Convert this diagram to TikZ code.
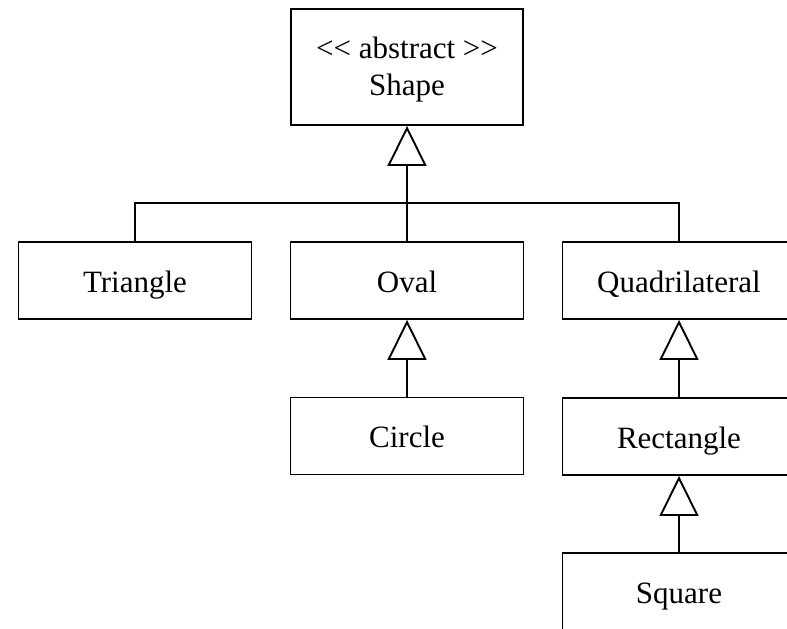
\documentclass[tikz,border=0pt]{standalone}
\usepackage{fontspec}
\setmainfont{Liberation Serif}[Ligatures=TeXOff]
\usetikzlibrary{arrows.meta}
\begin{document}
\begin{tikzpicture}[x=1pt,y=-1pt,
  line width=1.9pt,
  classbox/.style={draw, rectangle, minimum width=233pt, minimum height=77pt,
    inner sep=0pt, font=\fontsize{31}{37}\selectfont, align=center,
    text height=29.5pt, text depth=6.5pt},
  gen/.style={-{Triangle[open,length=40pt,width=39pt]}}]
\useasboundingbox (0,0) rectangle (787,629);
\clip (0,0) rectangle (787,629);

% classes
\node[classbox, minimum width=232pt, minimum height=116pt,
  text height=62pt, text depth=6pt] (shape) at (407,67)
  {<< abstract >>\\Shape};
\node[classbox] (triangle) at (135,280.5) {Triangle};
\node[classbox] (oval) at (407,280.5) {Oval};
\node[classbox] (quad) at (679,280.5) {Quadrilateral};
\node[classbox] (circle) at (407,436) {Circle};
\node[classbox] (rect) at (679,436.5) {Rectangle};
\node[classbox] (square) at (679,591.5) {Square};

% shared generalisation bus below Shape
\coordinate (bus) at (407,203);
\draw (triangle.north) |- (quad.north |- bus) -- (quad.north);
\draw[gen] (oval.north) -- (shape.south);

% remaining inheritance links
\draw[gen] (circle.north) -- (oval.south);
\draw[gen] (rect.north) -- (quad.south);
\draw[gen] (square.north) -- (rect.south);
\end{tikzpicture}
\end{document}
